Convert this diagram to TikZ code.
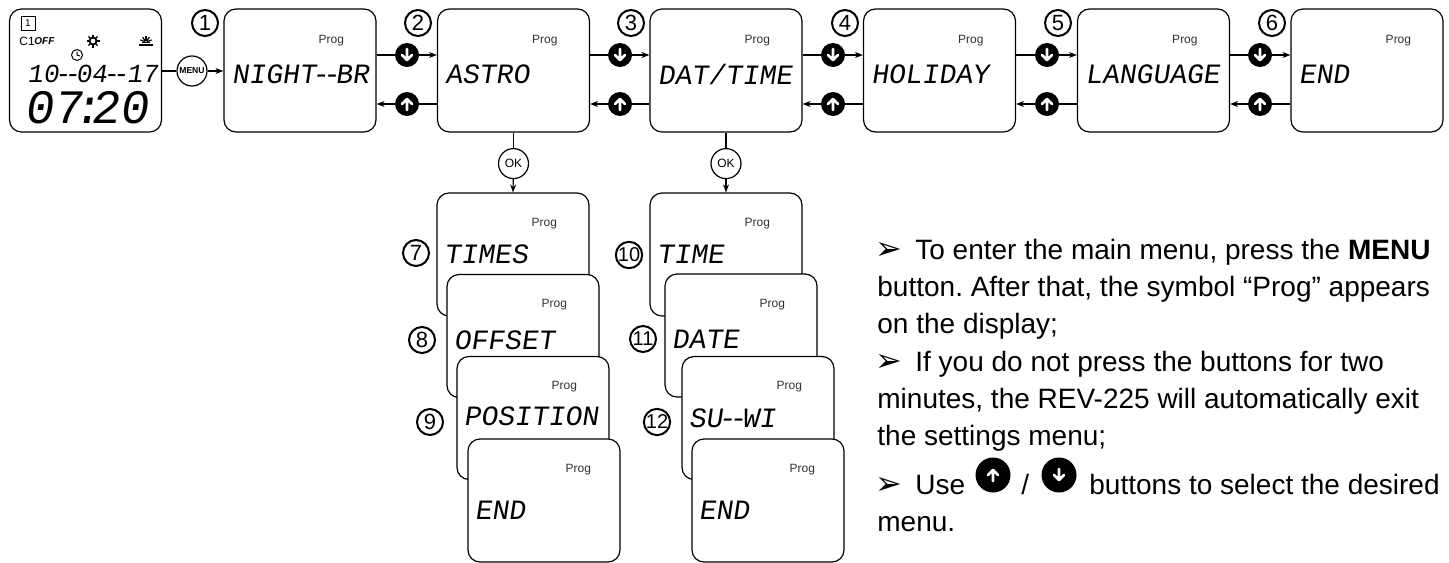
\documentclass[tikz,border=0pt]{standalone}
\usepackage{fontspec}
\setmainfont{Liberation Sans}
\newfontfamily\lcdfont[FakeSlant=.15]{Liberation Mono}
\newfontfamily\symfont{DejaVu Sans}
\usetikzlibrary{arrows.meta, calc}
\newcommand{\lcddash}{\kern-2pt-\kern-3pt-\kern-2pt}
\frenchspacing
\tikzset{
	lcdbox/.style={draw, fill=white, rounded corners=6pt, line width=.6pt, minimum width=76pt, minimum height=61.5pt, inner sep=0pt},
	lcdtext/.style={anchor=west, inner sep=0pt, font=\lcdfont\fontsize{14pt}{16pt}\selectfont},
	progtext/.style={inner sep=0pt, font=\fontsize{6pt}{7pt}\selectfont, black!80},
	numtag/.style={draw, circle, line width=1pt, minimum size=13pt, inner sep=0pt, font=\fontsize{11pt}{11pt}\selectfont},
	keyround/.style={draw, fill=white, circle, line width=.6pt, minimum size=15pt, inner sep=0pt},
	upkey/.style={circle, fill=black, minimum size=#1, inner sep=0pt, path picture={
			\draw[white, line width=1.3pt, line cap=round, line join=round, shift={(path picture bounding box.center)}]
			(0,6) -- (0,-5) (-5,0) -- (0,-5) -- (5,0);}},
	dnkey/.style={circle, fill=black, minimum size=#1, inner sep=0pt, path picture={
			\draw[white, line width=1.3pt, line cap=round, line join=round, shift={(path picture bounding box.center)}]
			(0,-6) -- (0,5) (-5,0) -- (0,5) -- (5,0);}},
	bodytext/.style={anchor=base west, inner sep=0pt, font=\fontsize{14pt}{14pt}\selectfont},
	bullettext/.style={anchor=base west, inner sep=0pt, font=\symfont\fontsize{16pt}{16pt}\selectfont},
}

\begin{document}
\begin{tikzpicture}[x=.5pt, y=-.5pt, >={Stealth[length=4pt,width=3pt]}]
			\useasboundingbox (0,0) rectangle (1449,562);
			% the clock display
			\node[lcdbox] (disp) at (85.5,70.5) {};
			\node[draw, line width=.4pt, minimum size=7pt, inner sep=0pt, font=\fontsize{5pt}{5pt}\selectfont] (chan) at (28,23) {1};
			\node[anchor=west, inner sep=0pt, font=\fontsize{6pt}{7pt}\selectfont] (cone) at (19,41) {C1};
			\node[anchor=west, inner sep=0pt, font=\bfseries\itshape\fontsize{5pt}{7pt}\selectfont] (off) at (34,41) {OFF};
			\node[anchor=west, inner sep=0pt, font=\lcdfont\fontsize{13pt}{16pt}\selectfont] (date) at (27,74) {10\lcddash 04\lcddash\ \kern-6.5pt 17};
			\node[anchor=west, inner sep=0pt, font=\lcdfont\fontsize{24pt}{28pt}\selectfont] (hour) at (24,108) {07\kern-5pt:\kern-5pt20};
			% sun, sunset and clock symbols
			\draw[line width=.9pt] (93,41) circle (3.5);
			\foreach \a in {0,45,...,315} {
				\draw[line width=.7pt] ($(93,41)+(\a:4)$) -- ($(93,41)+(\a:6.5)$);
			}
			\draw[line width=.8pt] (139,45) -- (153,45) (142,42.5) -- (150,42.5);
			\foreach \a in {-160,-125,-90,-55,-20} {
				\draw[line width=.6pt] ($(146,42)+(\a:1)$) -- ($(146,42)+(\a:6)$);
			}
			\draw[line width=.5pt] (77,55) circle (5.5);
			\draw[line width=.5pt] (77,51.5) -- (77,55) -- (80,56);
			% main menu row
			\foreach \nm/\cx/\ty/\txt in {a/300/66/{NIGHT\lcddash BR}, b/513.5/66/ASTRO, c/726/66/{DAT/TIME}, d/939.5/66/HOLIDAY, e/1153.5/66/LANGUAGE, f/1367/66/END} {
				\node[lcdbox] (box\nm) at (\cx,70.5) {};
				\node[progtext] (prog\nm) at ($(box\nm.north west)+(108,32)$) {Prog};
				\node[lcdtext] (text\nm) at ($(box\nm.north west)+(8,\ty)$) {\txt};
			}
			% number tags of the row
			\foreach \i/\nm/\cx in {1/a/205, 2/b/418, 3/c/631, 4/d/845, 5/e/1058, 6/f/1272} {
				\node[numtag] (tag\i) at (\cx,23) {\i};
			}
			% menu key
			\node[keyround, font=\bfseries\fontsize{4.3pt}{5pt}\selectfont] (menukey) at (192,71) {MENU};
			\draw[line width=.6pt] (disp.east |- menukey) -- (menukey);
			\draw[->, line width=.6pt] (menukey) -- (menukey -| boxa.west);
			% keys between the boxes
			\foreach \i/\j/\cx in {a/b/407, b/c/620, c/d/833, d/e/1047, e/f/1260} {
				\node[dnkey=12pt] (dn\i) at (\cx,55) {};
				\node[upkey=12pt] (up\i) at (\cx,104) {};
				\draw[line width=.6pt] (box\i.east |- dn\i) -- (dn\i);
				\draw[->, line width=.6pt] (dn\i) -- (dn\i -| box\j.west);
				\draw[line width=.6pt] (box\j.west |- up\i) -- (up\i);
				\draw[->, line width=.6pt] (up\i) -- (up\i -| box\i.east);
			}
			% stack under the second box
			\foreach \nm/\cx/\cy/\ty/\px/\txt in {g/513/254.5/62/108/TIMES, h/523/336/66/108/OFFSET, i/533/418/60/108/POSITION, j/544/500.5/72/111/END} {
				\node[lcdbox] (box\nm) at (\cx,\cy) {};
				\node[progtext] (prog\nm) at ($(box\nm.north west)+(\px,31)$) {Prog};
				\node[lcdtext] (text\nm) at ($(box\nm.north west)+(7,\ty)$) {\txt};
			}
			% stack under the third box
			\foreach \nm/\cx/\cy/\ty/\px/\txt in {k/726/254.5/62/108/TIME, l/741/335.5/66/108/DATE, m/758/418/62/108/{SU\lcddash WI}, n/768/500.5/72/111/END} {
				\node[lcdbox] (box\nm) at (\cx,\cy) {};
				\node[progtext] (prog\nm) at ($(box\nm.north west)+(\px,31)$) {Prog};
				\node[lcdtext] (text\nm) at ($(box\nm.north west)+(7,\ty)$) {\txt};
			}
			% ok keys
			\foreach \i/\j/\k in {b/g/okb, c/k/okc} {
				\node[keyround, font=\fontsize{6pt}{7pt}\selectfont] (\k) at ($(box\i.south)+(0,31)$) {OK};
				\draw[line width=.6pt] (box\i.south) -- (\k);
				\draw[->, line width=.6pt] (\k) -- (box\j.north);
			}
			% number tags of the stacks
			\foreach \i/\cx/\cy in {7/416/253, 8/422/340, 9/430/422} {
				\node[numtag] (tag\i) at (\cx,\cy) {\i};
			}
			\foreach \i/\cx/\cy in {10/629/255, 11/643/339, 12/657/422} {
				\node[numtag, font=\fontsize{10pt}{10pt}\selectfont] (tag\i) at (\cx,\cy) {\i};
			}
			% notes on the right
			\foreach \n/\cy in {1/259, 2/371, 3/494} {
				\node[bullettext] (mark\n) at (875,\cy) {➢};
			}
			\node[bodytext] (noteone) at (915,259) {To enter the main menu, press the \textbf{MENU}};
			\node[bodytext] (notetwo) at (877,296) {button. After that, the symbol “Prog” appears};
			\node[bodytext] (notethree) at (877,333) {on the display;};
			\node[bodytext] (notefour) at (915,371) {If you do not press the buttons for two};
			\node[bodytext] (notefive) at (877,408) {minutes, the REV-225 will automatically exit};
			\node[bodytext] (notesix) at (877,445) {the settings menu;};
			\node[bodytext] (noteseven) at (915,494) {Use};
			\node[upkey=17.5pt] (upnote) at (993,475) {};
			\node[bodytext] (noteslash) at (1021,494) {/};
			\node[dnkey=17.5pt] (dnnote) at (1059,475) {};
			\node[bodytext] (noteeight) at (1089,494) {buttons to select the desired};
			\node[bodytext] (notenine) at (877,531) {menu.};
		\end{tikzpicture}
\end{document}
